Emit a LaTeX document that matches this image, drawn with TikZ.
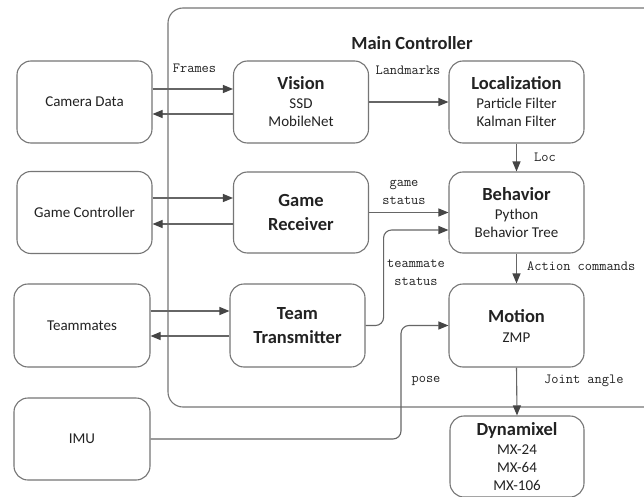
\documentclass[tikz,border=0pt]{standalone}
\usepackage{fontspec}
\setmainfont{Carlito}
\usetikzlibrary{arrows.meta}
\definecolor{boxline}{HTML}{767676}
\definecolor{wire}{HTML}{666666}
\definecolor{tipcol}{HTML}{454545}
\definecolor{ink}{HTML}{222222}
\begin{document}
\begin{tikzpicture}[x=1pt,y=-1pt,
  blk/.style={draw=boxline,line width=1.1pt,rounded corners=14pt,
    minimum width=135pt,minimum height=82pt,align=center,text=ink,
    inner sep=0pt,font=\fontsize{15}{18}\selectfont},
  ttl/.style={font=\fontsize{18.5}{23.5}\selectfont\bfseries},
  wirearrow/.style={draw=wire,line width=1.1pt,
    -{Triangle[length=10pt,width=8pt,color=tipcol]}},
  tag/.style={font=\ttfamily\fontsize{14}{18}\selectfont,text=ink,inner sep=0pt,align=center}]
\useasboundingbox (0,0) rectangle (644,497);
\clip (0,0) rectangle (644,497);
\fill[white] (0,0) rectangle (644,497);

% main controller frame
\draw[boxline,line width=1.1pt,rounded corners=15pt] (168,8) rectangle (700,407);
\node[font=\fontsize{18.5}{20}\selectfont\bfseries,text=ink] (mainlabel) at (412,43) {Main Controller};

% external sources
\node[blk] (cam) at (84.5,102) {Camera Data};
\node[blk] (gc) at (84.5,212.5) {Game Controller};
\node[blk,minimum width=136pt,minimum height=83pt] (tm) at (82,325.5) {Teammates};
\node[blk,minimum width=136pt] (imu) at (82,439) {IMU};

% modules of the main controller
\node[blk] (vision) at (301,102) {{\fontsize{18.5}{20}\selectfont\bfseries Vision}\\[1pt] SSD\\ MobileNet};
\node[blk] (loc) at (516.5,102) {{\fontsize{18.5}{20}\selectfont\bfseries Localization}\\[1pt] Particle Filter\\ Kalman Filter};
\node[blk,ttl,minimum height=81pt] (gr) at (301,212.5) {Game\\ Receiver};
\node[blk,minimum height=81pt] (beh) at (516.5,212.5) {{\fontsize{18.5}{20}\selectfont\bfseries Behavior}\\[1pt] Python\\ Behavior Tree};
\node[blk,ttl,minimum height=83pt] (tt) at (297.5,325.5) {Team\\ Transmitter};
\node[blk,minimum height=83pt] (mot) at (516.5,325.5) {{\fontsize{18.5}{20}\selectfont\bfseries Motion}\\[2pt] ZMP};
\node[blk,minimum width=134pt,minimum height=81pt] (dyn) at (517,456.5) {{\fontsize{18.5}{20}\selectfont\bfseries Dynamixel}\\[1pt] MX-24\\ MX-64\\ MX-106};

% data links
\draw[wirearrow] ([yshift=13pt]cam.east) -- ([yshift=13pt]cam.east -| vision.west);
\draw[wirearrow] ([yshift=-12pt]vision.west) -- ([yshift=-12pt]vision.west -| cam.east);
\draw[wirearrow] ([yshift=14.5pt]gc.east) -- ([yshift=14.5pt]gc.east -| gr.west);
\draw[wirearrow] ([yshift=-11.5pt]gr.west) -- ([yshift=-11.5pt]gr.west -| gc.east);
\draw[wirearrow] ([yshift=14.5pt]tm.east) -- ([yshift=14.5pt]tm.east -| tt.west);
\draw[wirearrow] ([yshift=-10.5pt]tt.west) -- ([yshift=-10.5pt]tt.west -| tm.east);

\draw[wirearrow] (vision.east) -- (loc.west);
\draw[wirearrow] (loc.south) -- (beh.north);
\draw[wirearrow] (gr.east) -- (beh.west);
\draw[wirearrow,rounded corners=8pt] (tt.east) -- ++(18,0) |- ([yshift=-17.5pt]beh.west);
\draw[wirearrow] (beh.south) -- (mot.north);
\coordinate (poseturn) at (401,439);
\draw[wirearrow,rounded corners=8pt] (imu.east) -- (poseturn) |- (mot.west);
\draw[wirearrow] (mot.south) -- (dyn.north);

% link labels
\node[tag] (lframes) at (194.5,68) {Frames};
\node[tag] (llandmarks) at (408,70) {Landmarks};
\node[tag] (lloc) at (545,157) {Loc};
\node[tag] (lgame) at (404,192) {game\\status};
\node[tag] (lteam) at (416,273) {teammate\\status};
\node[tag,anchor=west] (laction) at (527,266) {Action commands};
\node[tag] (lpose) at (426,381) {pose};
\node[tag,anchor=west] (ljoint) at (544,381) {Joint angle};
\end{tikzpicture}
\end{document}
